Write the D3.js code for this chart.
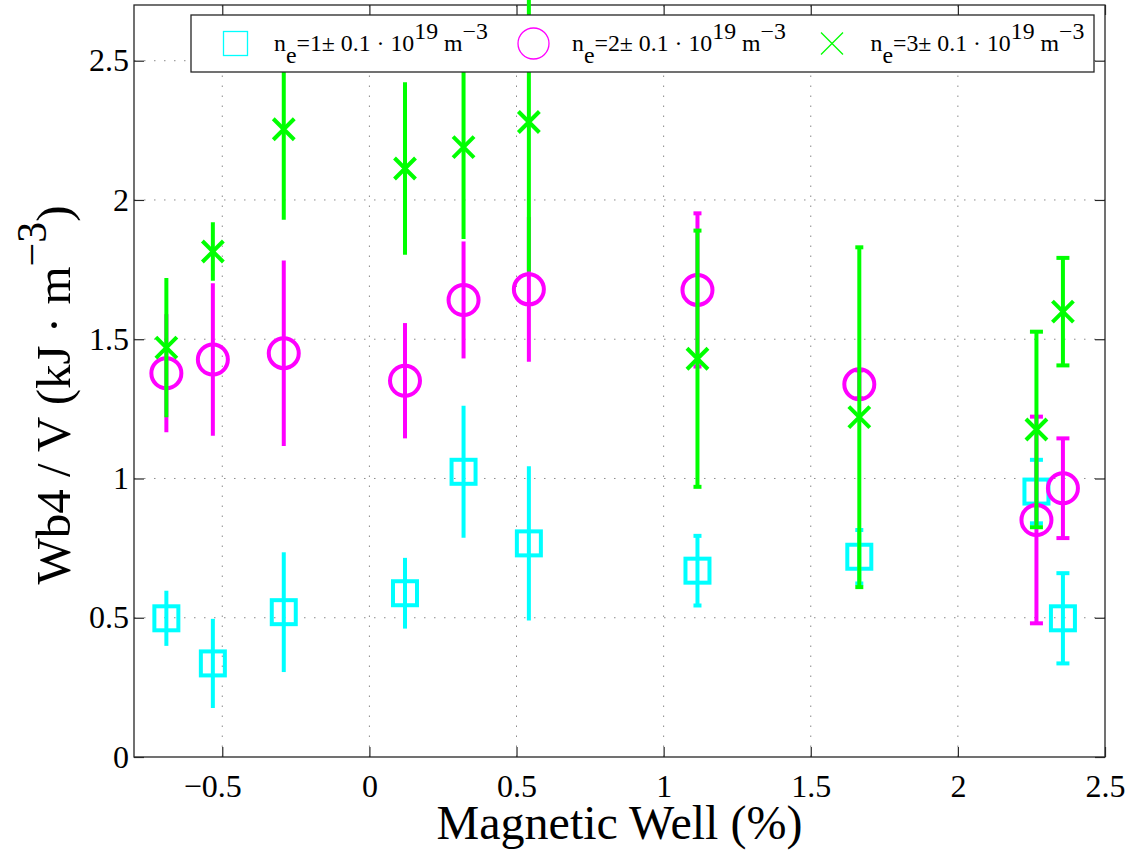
<!DOCTYPE html>
<html>
<head>
<meta charset="utf-8">
<script src="https://cdn.jsdelivr.net/npm/d3@7.9.0/dist/d3.min.js"></script>
<style>
  body { margin: 0; background: #fff; }
  svg { display: block; }
  text { font-family: "Liberation Serif", "Times New Roman", serif; fill: #000; }
</style>
</head>
<body>
<svg id="chart" width="1135" height="855"></svg>
<script>
// magnetic well (%) shared by the three density series
const wellPct = [-0.69, -0.532, -0.291, 0.121, 0.32, 0.542, 1.115, 1.665, 2.267, 2.357];

// ne = 1e19 m^-3
const wbLow    = [0.498, 0.336, 0.520, 0.588, 1.024, 0.767, 0.669, 0.719, 0.953, 0.498];
const errLow   = [0.099, 0.160, 0.215, 0.127, 0.237, 0.277, 0.125, 0.096, 0.114, 0.162];
// ne = 2e19 m^-3
const wbMid    = [1.378, 1.427, 1.450, 1.351, 1.641, 1.679, 1.677, 1.338, 0.851, 0.965];
const errMid   = [0.212, 0.274, 0.333, 0.207, 0.210, 0.260, 0.275, 0.050, 0.371, 0.179];
// ne = 3e19 m^-3
const wbHigh   = [1.470, 1.815, 2.254, 2.113, 2.190, 2.280, 1.430, 1.220, 1.176, 1.599];
const errHigh  = [0.250, 0.105, 0.325, 0.310, 0.330, 0.537, 0.460, 0.610, 0.351, 0.193];

const densities = ['1', '2', '3'];
const xTicks = [-0.5, 0, 0.5, 1, 1.5, 2, 2.5];
const yTicks = [0, 0.5, 1, 1.5, 2, 2.5];

const svg = d3.select('#chart');
const plotL = 134, plotR = 1105, plotT = 5, plotB = 757;

const x = d3.scaleLinear().domain([-0.8, 2.5]).range([plotL, plotR]);
const y = d3.scaleLinear().domain([0, 2.7]).range([plotB, plotT]);

const axisColor = '#262626';

// dotted grid
const grid = svg.append('g');
xTicks.filter(t => t > -0.8 && t < 2.5).forEach(t => {
  grid.append('line')
    .attr('x1', x(t)).attr('x2', x(t)).attr('y1', plotB).attr('y2', plotT)
    .attr('stroke', '#8a8a8a').attr('stroke-width', 1).attr('stroke-dasharray', '1.5,8.5');
});
yTicks.filter(t => t > 0).forEach(t => {
  grid.append('line')
    .attr('x1', plotL).attr('x2', plotR).attr('y1', y(t)).attr('y2', y(t))
    .attr('stroke', '#8a8a8a').attr('stroke-width', 1).attr('stroke-dasharray', '1.5,8.5');
});

// axes, ticks inward on all four sides
const fmt = d3.format('');
const tickLen = 10;
const gx = svg.append('g').attr('transform', `translate(0,${plotB})`)
  .call(d3.axisBottom(x).tickValues(xTicks).tickSize(-tickLen).tickPadding(17).tickFormat(fmt));
const gxTop = svg.append('g').attr('transform', `translate(0,${plotT})`)
  .call(d3.axisTop(x).tickValues(xTicks).tickSize(-tickLen).tickFormat(''));
const gy = svg.append('g').attr('transform', `translate(${plotL},0)`)
  .call(d3.axisLeft(y).tickValues(yTicks).tickSize(-tickLen).tickPadding(5).tickFormat(fmt));
const gyRight = svg.append('g').attr('transform', `translate(${plotR},0)`)
  .call(d3.axisRight(y).tickValues(yTicks).tickSize(-tickLen).tickFormat(''));

[gx, gxTop, gy, gyRight].forEach(g => {
  g.select('.domain').remove();
  g.selectAll('line').attr('stroke', axisColor).attr('stroke-width', 1.2);
  g.selectAll('text').attr('font-size', 32).attr('fill', '#000');
});
gx.selectAll('text').attr('dy', '0.71em');
// MATLAB centres the digits, the minus sign hangs to the left
gx.selectAll('text').filter(d => d < 0).attr('dx', -10);

svg.append('rect')
  .attr('x', plotL).attr('y', plotT).attr('width', plotR - plotL).attr('height', plotB - plotT)
  .attr('fill', 'none').attr('stroke', axisColor).attr('stroke-width', 1.3);

// series with error bars
const series = [
  { vals: wbLow,  errs: errLow,  color: '#00ffff', marker: 'square' },
  { vals: wbMid,  errs: errMid,  color: '#ff00ff', marker: 'circle' },
  { vals: wbHigh, errs: errHigh, color: '#00ff00', marker: 'cross' },
];

function capHalf(xv) {
  if (xv > 2) return 6.5;
  if (xv > 1) return 4;
  return 0;
}

function drawMarker(g, kind, cx, cy, color, size, sw) {
  if (kind === 'square') {
    g.append('rect').attr('x', cx - size).attr('y', cy - size)
      .attr('width', size * 2).attr('height', size * 2)
      .attr('fill', 'none').attr('stroke', color).attr('stroke-width', sw);
  } else if (kind === 'circle') {
    g.append('circle').attr('cx', cx).attr('cy', cy).attr('r', size)
      .attr('fill', 'none').attr('stroke', color).attr('stroke-width', sw);
  } else {
    g.append('path')
      .attr('d', `M${cx - size},${cy - size}L${cx + size},${cy + size}M${cx - size},${cy + size}L${cx + size},${cy - size}`)
      .attr('fill', 'none').attr('stroke', color).attr('stroke-width', sw);
  }
}

const markerSize = { square: 12, circle: 15, cross: 10.5 };

series.forEach(s => {
  const g = svg.append('g');
  wellPct.forEach((w, i) => {
    const px = x(w);
    const lo = y(s.vals[i] - s.errs[i]);
    const hi = y(s.vals[i] + s.errs[i]);
    g.append('line').attr('x1', px).attr('x2', px).attr('y1', lo).attr('y2', hi)
      .attr('stroke', s.color).attr('stroke-width', 4);
    const c = capHalf(w);
    if (c > 0) {
      [lo, hi].forEach(py => {
        g.append('line').attr('x1', px - c).attr('x2', px + c).attr('y1', py).attr('y2', py)
          .attr('stroke', s.color).attr('stroke-width', 4);
      });
    }
  });
  wellPct.forEach((w, i) => {
    drawMarker(g, s.marker, x(w), y(s.vals[i]), s.color, markerSize[s.marker], 4);
  });
});

// legend
const legend = svg.append('g');
legend.append('rect')
  .attr('x', 191).attr('y', 15).attr('width', 1094 - 191).attr('height', 72 - 15)
  .attr('fill', '#fff').attr('stroke', axisColor).attr('stroke-width', 1.3);

const legendX = [235.5, 533.5, 832];
const legendSize = { square: 12, circle: 15.5, cross: 11 };
series.forEach((s, i) => {
  drawMarker(legend, s.marker, legendX[i], 43.5, s.color, legendSize[s.marker], 1.3);
  const t = legend.append('text').attr('font-size', 22.5);
  t.append('tspan').text('n');
  t.append('tspan').attr('dy', 12).text('e');
  t.append('tspan').attr('dy', -12).text(`=${densities[i]}\u00b1 0.1 \u00b7 10`);
  t.append('tspan').attr('dy', -11.5).text('19');
  t.append('tspan').attr('dy', 11.5).text(' m');
  t.append('tspan').attr('dy', -11.5).text('\u22123');
  const w = t.node().getBBox().width;
  t.attr('transform', `translate(${legendX[i] + 38.5},50.7) scale(${214 / w},1)`);
});

// axis titles
svg.append('text')
  .attr('x', (plotL + plotR) / 2).attr('y', 839)
  .attr('text-anchor', 'middle').attr('font-size', 48)
  .text('Magnetic Well (%)');

const yt = svg.append('text')
  .attr('transform', 'translate(70,395) rotate(-90)')
  .attr('text-anchor', 'middle').attr('font-size', 49);
yt.append('tspan').text('Wb4 / V (kJ \u00b7 m');
yt.append('tspan').attr('dy', -24).attr('font-size', 42).text('\u22123');
yt.append('tspan').attr('dy', 24).text(')');
</script>
</body>
</html>
